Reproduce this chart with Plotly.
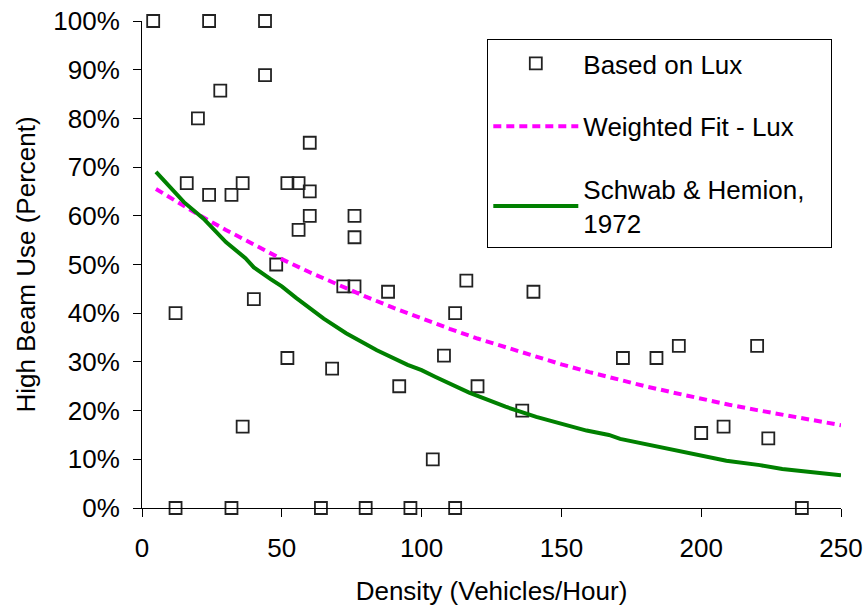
import plotly.graph_objects as go

# ---- data ----
lux_density = [4, 24, 44, 44, 28, 20, 60, 16, 24, 32, 36, 52, 56, 60, 60, 56, 76, 76,
               48, 40, 12, 72, 76, 88, 52, 68, 92, 36, 104, 12, 32, 64, 80, 96,
               116, 140, 112, 108, 120, 136, 172, 184, 192, 220, 200, 208, 224, 112, 236]
lux_pct = [100, 100, 100, 88.9, 85.7, 80, 75, 66.7, 64.3, 64.3, 66.7, 66.7, 66.7, 65, 60, 57.1, 60, 55.6,
           50, 42.9, 40, 45.5, 45.5, 44.4, 30.8, 28.6, 25, 16.7, 10, 0, 0, 0, 0, 0,
           46.7, 44.4, 40, 31.3, 25, 20, 30.8, 30.8, 33.3, 33.3, 15.4, 16.7, 14.3, 0, 0]

fit_density = [5, 10, 20, 30, 40, 50, 60, 70, 80, 90, 100, 110, 120, 130, 140, 150,
               160, 170, 180, 190, 200, 210, 220, 230, 240, 250]
fit_pct = [65.5, 63.7, 60.3, 57.1, 54.0, 51.1, 48.4, 45.8, 43.4, 41.1, 38.9, 36.8, 34.8,
           33.0, 31.2, 29.5, 27.9, 26.4, 25.0, 23.7, 22.4, 21.2, 20.1, 19.0, 18.0, 17.0]

sh_density = [5, 10, 15, 22, 30, 37, 40, 46, 50, 55, 60, 65, 73, 84, 95, 100, 105, 117,
              130, 141, 159, 167, 171, 189, 209, 221, 229, 250]
sh_pct = [69.0, 65.8, 62.8, 59.4, 54.6, 51.3, 49.4, 47.0, 45.5, 43.2, 41.0, 38.9, 35.9,
          32.4, 29.4, 28.3, 26.9, 23.7, 20.8, 18.7, 15.9, 15.0, 14.2, 12.0, 9.7, 8.8, 8.0, 6.7]

y_ticks = [0, 10, 20, 30, 40, 50, 60, 70, 80, 90, 100]
y_tick_labels = ["0%", "10%", "20%", "30%", "40%", "50%", "60%", "70%", "80%", "90%", "100%"]
x_ticks = [0, 50, 100, 150, 200, 250]
x_tick_labels = ["0", "50", "100", "150", "200", "250"]

FONT = "Liberation Sans, Arial, sans-serif"

fig = go.Figure()
fig.add_trace(go.Scatter(
    x=lux_density, y=lux_pct, mode="markers", name="Based on Lux",
    legendgroup="a",
    marker=dict(symbol="square-open", size=12, color="#222222",
                line=dict(width=1.8, color="#222222")),
    cliponaxis=False,
))
fig.add_trace(go.Scatter(
    x=fit_density, y=fit_pct, mode="lines", name="Weighted Fit - Lux",
    legendgroup="b",
    line=dict(color="#FF00FF", width=4, dash="8px,5px"),
))
fig.add_trace(go.Scatter(
    x=sh_density, y=sh_pct, mode="lines",
    name="Schwab & Hemion,\u00a0\u00a0\u00a0<br>1972",
    legendgroup="c",
    line=dict(color="#008000", width=4),
))

fig.update_layout(
    width=868, height=608,
    margin=dict(l=142, r=27, t=21, b=100),
    paper_bgcolor="white", plot_bgcolor="white",
    font=dict(family=FONT, size=26, color="black"),
    showlegend=True,
    legend=dict(
        x=0.494, y=0.963, xanchor="left", yanchor="top",
        bgcolor="white", bordercolor="black", borderwidth=1,
        font=dict(family=FONT, size=26, color="black"),
        traceorder="grouped", tracegroupgap=26, itemwidth=85,
    ),
    xaxis=dict(
        range=[0, 250], tickvals=x_ticks, ticktext=x_tick_labels,
        ticks="outside", ticklen=8, tickwidth=1,
        tickcolor="black", showline=True, linecolor="black", linewidth=1,
        showgrid=False, zeroline=False, ticklabelstandoff=9,
        tickfont=dict(family=FONT, size=26),
        title=dict(text="Density (Vehicles/Hour)", font=dict(family=FONT, size=26), standoff=19),
        automargin=False,
    ),
    yaxis=dict(
        range=[0, 100], tickvals=y_ticks, ticktext=y_tick_labels,
        ticks="outside", ticklen=8,
        tickwidth=1, tickcolor="black", showline=True, linecolor="black", linewidth=1,
        showgrid=False, zeroline=False, ticklabelstandoff=8,
        tickfont=dict(family=FONT, size=26),
        title=dict(text="High Beam Use (Percent)", font=dict(family=FONT, size=26), standoff=10),
        automargin=False,
    ),
)

fig.write_html("out.html", config={"displayModeBar": False},
               post_script="document.body.style.margin='0';")
